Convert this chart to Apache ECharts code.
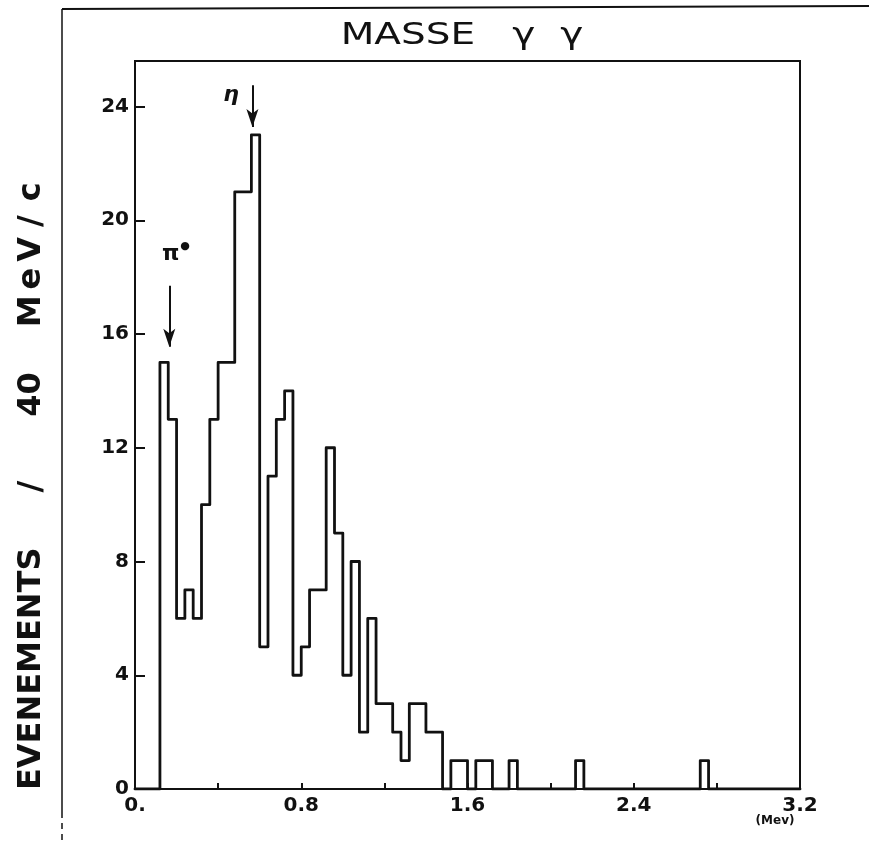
<!DOCTYPE html>
<html><head><meta charset="utf-8">
<script src="https://cdn.jsdelivr.net/npm/echarts@6/dist/echarts.min.js"></script>
<style>html,body{margin:0;padding:0;background:#fff}#c{width:869px;height:844px}</style>
</head><body><div id="c"></div>
<script>
// ---- data ----
const BIN_WIDTH = 0.04; // 40 MeV bins (axis in GeV)
const counts = [
  0, 0, 0, 15, 13, 6, 7, 6, 10, 13,
  15, 15, 21, 21, 23, 5, 11, 13, 14, 4,
  5, 7, 7, 12, 9, 4, 8, 2, 6, 3,
  3, 2, 1, 3, 3, 2, 2, 0, 1, 1,
  0, 1, 1, 0, 0, 1, 0, 0, 0, 0,
  0, 0, 0, 1, 0, 0, 0, 0, 0, 0,
  0, 0, 0, 0, 0, 0, 0, 0, 1, 0,
  0, 0, 0, 0, 0, 0, 0, 0, 0, 0
];
const xLabelValues = [0, 0.8, 1.6, 2.4, 3.2];
const xLabelTexts = ['0.', '0.8', '1.6', '2.4', '3.2'];
const yLabelValues = [0, 4, 8, 12, 16, 20, 24];
const yLabelTexts = ['0', '4', '8', '12', '16', '20', '24'];
const arrowX = [0.165, 0.565];
const arrowTop = [17.7, 24.75];
const arrowTip = [15.55, 23.28];
const arrowLabels = ['pi', 'eta'];
const labelX = [0.197, 0.462];
const labelY = [18.8, 24.4];

// ---- build ----
const histPoints = counts.map((c, k) => [+(k * BIN_WIDTH).toFixed(4), c]);
histPoints.push([+(counts.length * BIN_WIDTH).toFixed(4), counts[counts.length - 1]]);

const chart = echarts.init(document.getElementById('c'), null, {renderer: 'canvas'});
const FONT = 'DejaVu Sans';
const near = (v, arr) => arr.findIndex(a => Math.abs(a - v) < 1e-6);
const B32 = 'bold 32px "DejaVu Sans"';

chart.setOption({
  animation: false,
  backgroundColor: '#fff',
  grid: {left: 135, right: 69, top: 61, bottom: 55, show: true, borderColor: '#111', borderWidth: 2, backgroundColor: 'transparent'},
  xAxis: {
    type: 'value', min: 0, max: 3.2, interval: 0.4,
    axisLine: {show: true, onZero: false, lineStyle: {color: '#111', width: 2}},
    axisTick: {show: true, inside: true, length: 6, lineStyle: {color: '#111', width: 2}},
    splitLine: {show: false},
    axisLabel: {
      show: true, margin: 7, color: '#111', fontFamily: FONT, fontWeight: 'bold', fontSize: 20,
      showMinLabel: true, showMaxLabel: true,
      formatter: v => { const i = near(v, xLabelValues); return i >= 0 ? xLabelTexts[i] : ''; }
    }
  },
  yAxis: {
    type: 'value', min: 0, max: 25.6, interval: 4,
    axisLine: {show: true, lineStyle: {color: '#111', width: 2}},
    axisTick: {show: true, inside: true, length: 10, lineStyle: {color: '#111', width: 2}},
    splitLine: {show: false},
    axisLabel: {
      show: true, margin: 6, color: '#111', fontFamily: FONT, fontWeight: 'bold', fontSize: 20,
      formatter: v => { const i = near(v, yLabelValues); return i >= 0 ? yLabelTexts[i] : ''; }
    }
  },
  series: [{
    type: 'line',
    step: 'end',
    data: histPoints,
    showSymbol: false,
    symbol: 'none',
    silent: true,
    lineStyle: {color: '#111', width: 2.8, join: 'round', cap: 'round'},
    markLine: {
      silent: true,
      symbol: ['none', 'arrow'],
      symbolSize: [9, 18],
      label: {show: false},
      lineStyle: {color: '#111', width: 2, type: 'solid'},
      data: arrowX.map((x, i) => [{coord: [x, arrowTop[i]]}, {coord: [x, arrowTip[i]]}])
    },
    markPoint: {
      silent: true,
      symbol: 'circle',
      symbolSize: 0,
      data: labelX.map((x, i) => ({coord: [x, labelY[i]], name: arrowLabels[i]})),
      label: {
        show: true,
        position: 'inside',
        color: '#111',
        formatter: p => p.name === 'eta' ? '{e|η}' : '{p|π}{d|●}',
        rich: {
          e: {fontFamily: FONT, fontWeight: 'bold', fontStyle: 'italic', fontSize: 22, color: '#111'},
          p: {fontFamily: FONT, fontWeight: 'bold', fontSize: 22, color: '#111'},
          d: {fontFamily: FONT, fontWeight: 'bold', fontSize: 11, color: '#111', padding: [0, 0, 16, 1]}
        }
      }
    }
  }],
  graphic: [
    {type: 'line', shape: {x1: 62, y1: 9, x2: 869, y2: 6}, style: {stroke: '#111', lineWidth: 2}},
    {type: 'line', shape: {x1: 62, y1: 9, x2: 62, y2: 812}, style: {stroke: '#111', lineWidth: 1.5}},
    {type: 'line', shape: {x1: 62, y1: 812, x2: 62, y2: 844}, style: {stroke: '#111', lineWidth: 1.5, lineDash: [6, 5]}},
    {type: 'text', x: 462, y: 36, scaleX: 1.3,
      style: {text: 'MASSE   γ  γ', fill: '#111', font: '30px "DejaVu Sans"', textAlign: 'center', textVerticalAlign: 'middle'}},
    {type: 'text', x: 32, y: 790, rotation: Math.PI / 2,
      style: {
        text: '{a|EVENEMENTS}{s|/}{n|40}{m1|M}{m2|e}{m3|V}{m4|/}{m5|c}',
        textAlign: 'left', textVerticalAlign: 'middle', fill: '#111',
        rich: {
          a: {font: B32, fill: '#111'},
          s: {font: B32, fill: '#111', padding: [0, 32, 0, 55]},
          n: {font: B32, fill: '#111', padding: [0, 20, 0, 32]},
          m1: {font: B32, fill: '#111', padding: [0, 0, 0, 25]},
          m2: {font: B32, fill: '#111', padding: [0, 0, 0, 6]},
          m3: {font: B32, fill: '#111', padding: [0, 0, 0, 6]},
          m4: {font: B32, fill: '#111', padding: [0, 0, 0, 10]},
          m5: {font: B32, fill: '#111', padding: [0, 0, 0, 14]}
        }
      }},
    {type: 'text', x: 775, y: 821,
      style: {text: '(Mev)', fill: '#111', font: 'bold 12px "DejaVu Sans"', textAlign: 'center', textVerticalAlign: 'middle'}}
  ]
});
</script>
</body></html>
